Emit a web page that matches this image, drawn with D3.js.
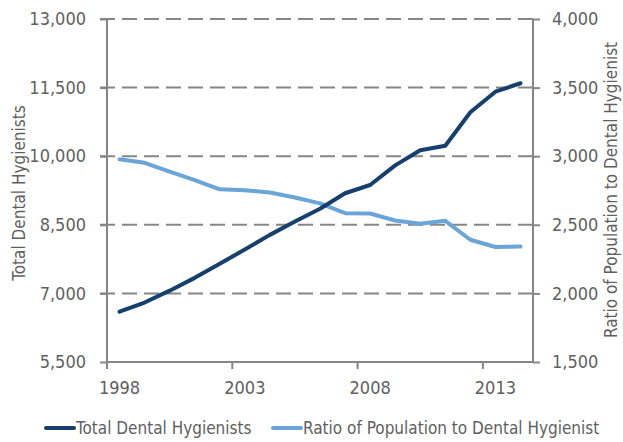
<!DOCTYPE html>
<html><head><meta charset="utf-8">
<script src="https://cdn.jsdelivr.net/npm/d3@7"></script>
<style>body{margin:0;background:#fff}svg{display:block} text{font-stretch:condensed}</style>
</head><body>
<script>
const years = [1998,1999,2000,2001,2002,2003,2004,2005,2006,2007,2008,2009,2010,2011,2012,2013,2014];
const totalHygienists = [6600,6800,7060,7340,7650,7960,8280,8570,8850,9190,9370,9800,10130,10230,10960,11410,11595];
const ratioPop = [2978,2952,2887,2826,2759,2752,2735,2699,2656,2585,2582,2531,2507,2529,2391,2338,2341];
const leftTicks = [5500,7000,8500,10000,11500,13000];
const rightTicks = [1500,2000,2500,3000,3500,4000];
const xTickYears = [1998,2003,2008,2013];
const seriesNames = ["Total Dental Hygienists","Ratio of Population to Dental Hygienist"];
const leftTitle = "Total Dental Hygienists";
const rightTitle = "Ratio of Population to Dental Hygienist";

const W=623,H=442, L=107, R=533, T=19, B=362;
const dark="#173f6b", light="#6ba5d7", axisC="#868686", textC="#5f5f5f";
const font="'DejaVu Sans Condensed','DejaVu Sans',sans-serif";

const svg=d3.select("body").append("svg").attr("width",W).attr("height",H).style("font-family",font);
const x=d3.scaleBand().domain(years).range([L,R]);
const yL=d3.scaleLinear().domain([5500,13000]).range([B,T]);
const yR=d3.scaleLinear().domain([1500,4000]).range([B,T]);

svg.append("g").selectAll("line").data(leftTicks.slice(1)).join("line")
  .attr("x1",L-7).attr("x2",R+7).attr("y1",d=>yL(d)).attr("y2",d=>yL(d))
  .attr("stroke",axisC).attr("stroke-width",2).attr("stroke-dasharray","15,7");

const gl=svg.append("g").attr("transform",`translate(${L},0)`)
  .call(d3.axisLeft(yL).tickValues(leftTicks).tickSize(7).tickPadding(14).tickFormat(d3.format(",")));
const gr=svg.append("g").attr("transform",`translate(${R},0)`)
  .call(d3.axisRight(yR).tickValues(rightTicks).tickSize(7).tickPadding(12).tickFormat(d3.format(",")));
const gb=svg.append("g").attr("transform",`translate(0,${B})`)
  .call(d3.axisBottom(x).tickValues(xTickYears).tickSize(0).tickPadding(19));
gb.selectAll(".tick").each(function(d){
  d3.select(this).append("line").attr("x1",-x.bandwidth()/2).attr("x2",-x.bandwidth()/2).attr("y1",0).attr("y2",7)
    .attr("stroke",axisC).attr("stroke-width",2);
});
[gl,gr,gb].forEach(g=>{
  g.select(".domain").attr("stroke",axisC).attr("stroke-width",2);
  g.selectAll(".tick line").attr("stroke",axisC).attr("stroke-width",2);
  g.selectAll("text").attr("fill",textC).style("font-size","18px").style("font-family",font);
});
gl.select(".domain").attr("d",`M0,${T}V${B+7}`);
gr.select(".domain").attr("d",`M0,${T}V${B}`);
gb.select(".domain").attr("d",`M${L},0H${R}`);

const cx=d=>x(d)+x.bandwidth()/2;
svg.append("path").datum(ratioPop).attr("fill","none").attr("stroke",light).attr("stroke-width",4).attr("stroke-linejoin","round").attr("stroke-linecap","round")
  .attr("d",d3.line().x((d,i)=>cx(years[i])).y(d=>yR(d)));
svg.append("path").datum(totalHygienists).attr("fill","none").attr("stroke",dark).attr("stroke-width",4).attr("stroke-linejoin","round").attr("stroke-linecap","round")
  .attr("d",d3.line().x((d,i)=>cx(years[i])).y(d=>yL(d)));

svg.append("text").attr("transform",`translate(19,193) rotate(-90)`).attr("text-anchor","middle").attr("dy","0.35em")
  .attr("fill",textC).style("font-size","17px").text(leftTitle);
svg.append("text").attr("transform",`translate(611,190) rotate(-90)`).attr("text-anchor","middle").attr("dy","0.35em")
  .attr("fill",textC).style("font-size","17px").text(rightTitle);

const leg=[{n:seriesNames[0],c:dark,x:46},{n:seriesNames[1],c:light,x:273}];
const lg=svg.append("g").selectAll("g").data(leg).join("g").attr("transform",d=>`translate(${d.x},428)`);
lg.append("line").attr("x1",0).attr("x2",28).attr("stroke",d=>d.c).attr("stroke-width",4).attr("stroke-linecap","round");
lg.append("text").attr("x",30).attr("dy","0.35em").attr("fill",textC).style("font-size","17px").text(d=>d.n);
</script>
</body></html>
